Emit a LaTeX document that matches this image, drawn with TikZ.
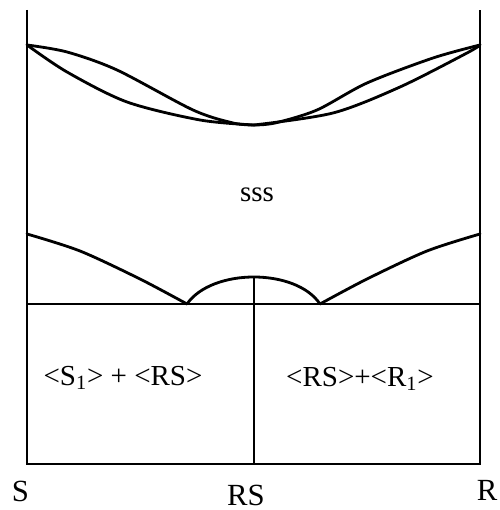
\documentclass[tikz,border=0pt]{standalone}
\usepackage{fontspec}
\setmainfont{Liberation Serif}
\usepackage{tikz}
\tikzset{
  axisline/.style={line width=1.6pt, draw=black, line cap=butt},
  curve/.style={line width=1.6pt, draw=black, line cap=round, line join=round},
  phaselabel/.style={font=\fontsize{16.5}{19}\selectfont, inner sep=0pt},
  endlabel/.style={font=\fontsize{17.5}{20}\selectfont, inner sep=0pt},
}
\begin{document}
\begin{tikzpicture}
\useasboundingbox (0,0) rectangle (10.0,10.2);
\coordinate (Sbot) at (0.54,0.92);
\coordinate (Stop) at (0.54,10.0);
\coordinate (Rbot) at (9.60,0.92);
\coordinate (Rtop) at (9.60,10.0);
\coordinate (Seut) at (0.54,4.12);
\coordinate (Reut) at (9.60,4.12);
\coordinate (RSbot) at (5.08,0.92);
\coordinate (RStop) at (5.08,4.66);
\draw[axisline] (Stop) -- (Sbot) -- (Rbot) -- (Rtop);
\draw[axisline] (Seut) -- (Reut);
\draw[axisline] (RSbot) -- (RStop);
% solid solution lens
\draw[curve] plot[smooth] coordinates {(0.54,9.30) (1.34,9.16) (2.34,8.80) (3.86,8.00) (4.66,7.74) (5.08,7.70)};
\draw[curve] plot[smooth] coordinates {(0.54,9.30) (1.34,8.76) (2.54,8.16) (4.00,7.80) (5.08,7.70)};
\draw[curve] plot[smooth] coordinates {(9.60,9.30) (8.66,9.04) (7.34,8.54) (6.34,8.00) (5.50,7.74) (5.08,7.70)};
\draw[curve] plot[smooth] coordinates {(9.60,9.30) (9.34,9.14) (8.00,8.46) (6.66,7.94) (5.08,7.70)};
% liquidus down to the eutectics
\draw[curve] plot[smooth] coordinates {(0.54,5.52) (1.60,5.18) (2.80,4.62) (3.74,4.12)};
\draw[curve] plot[smooth] coordinates {(9.60,5.52) (8.54,5.18) (7.34,4.62) (6.40,4.12)};
\draw[curve] (3.74,4.12) .. controls (4.24,4.84) and (5.92,4.84) .. (6.40,4.12);
\node[phaselabel] (sss) at (5.14,6.30) {sss};
\node[phaselabel] (leftfield) at (2.46,2.64) {<S\textsubscript{1}> + <RS>};
\node[phaselabel] (rightfield) at (7.20,2.62) {<RS>+<R\textsubscript{1}>};
\node[endlabel] (S) at (0.41,0.38) {S};
\node[endlabel] (RS) at (4.92,0.30) {RS};
\node[endlabel] (R) at (9.74,0.40) {R};
\end{tikzpicture}
\end{document}
